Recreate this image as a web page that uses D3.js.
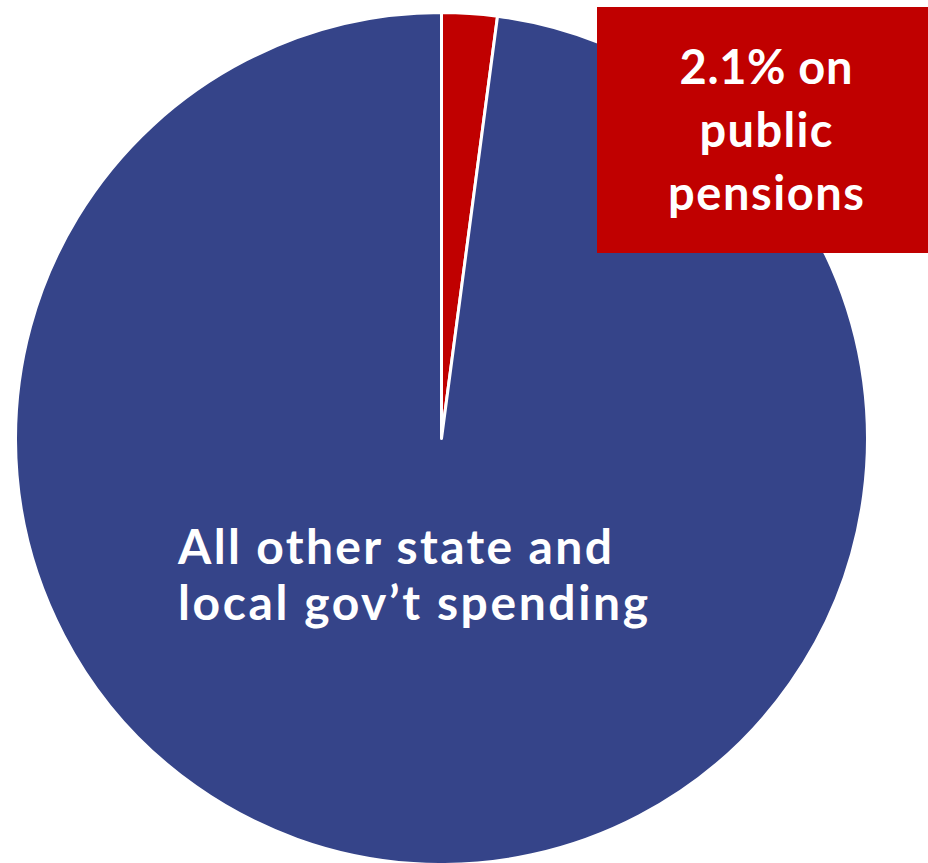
<!DOCTYPE html>
<html>
<head>
<meta charset="utf-8">
<script src="https://cdn.jsdelivr.net/npm/d3@7"></script>
<style>
  html, body { margin: 0; padding: 0; background: #fff; }
  svg { display: block; }
  text { font-family: Lato, "Open Sans", sans-serif; font-weight: 700; fill: #fff; }
</style>
</head>
<body>
<svg id="chart" width="928" height="863"></svg>
<script>
// Share of state and local government spending
const categories = ["Public pensions", "All other state and local gov't spending"];
const shares = [2.1, 97.9];
const colors = ["#C00000", "#354489"];
const pensionLabel = ["2.1% on", "public", "pensions"];
const pensionWidths = [173, 133, 196];
const otherLabel = ["All other state and", "local gov\u2019t spending"];
const otherWidths = [434, 470];

const svg = d3.select("#chart");
const cx = 441.5, cy = 438.5, r = 426;

const pie = d3.pie().sort(null).value(d => d)(shares);
const arc = d3.arc().innerRadius(0).outerRadius(r);

const g = svg.append("g").attr("transform", `translate(${cx},${cy})`);
g.selectAll("path")
  .data(pie)
  .join("path")
  .attr("d", arc)
  .attr("fill", (d, i) => colors[i])
  .attr("stroke", "#fff")
  .attr("stroke-width", 3)
  .attr("stroke-linejoin", "round");

// Label for the large slice
svg.selectAll("text.other")
  .data(otherLabel)
  .join("text")
  .attr("class", "other")
  .attr("font-size", 48)
  .attr("x", 178)
  .attr("y", (d, i) => 564 + i * 56)
  .attr("textLength", (d, i) => otherWidths[i])
  .attr("lengthAdjust", "spacing")
  .text(d => d);

// Boxed label for the pension slice
svg.append("rect")
  .attr("x", 597).attr("y", 7)
  .attr("width", 331).attr("height", 246)
  .attr("fill", colors[0]);

svg.selectAll("text.pension")
  .data(pensionLabel)
  .join("text")
  .attr("class", "pension")
  .attr("font-size", 47)
  .attr("text-anchor", "middle")
  .attr("x", 766)
  .attr("y", (d, i) => 84 + i * 63)
  .attr("textLength", (d, i) => pensionWidths[i])
  .attr("lengthAdjust", "spacing")
  .text(d => d);
</script>
</body>
</html>
